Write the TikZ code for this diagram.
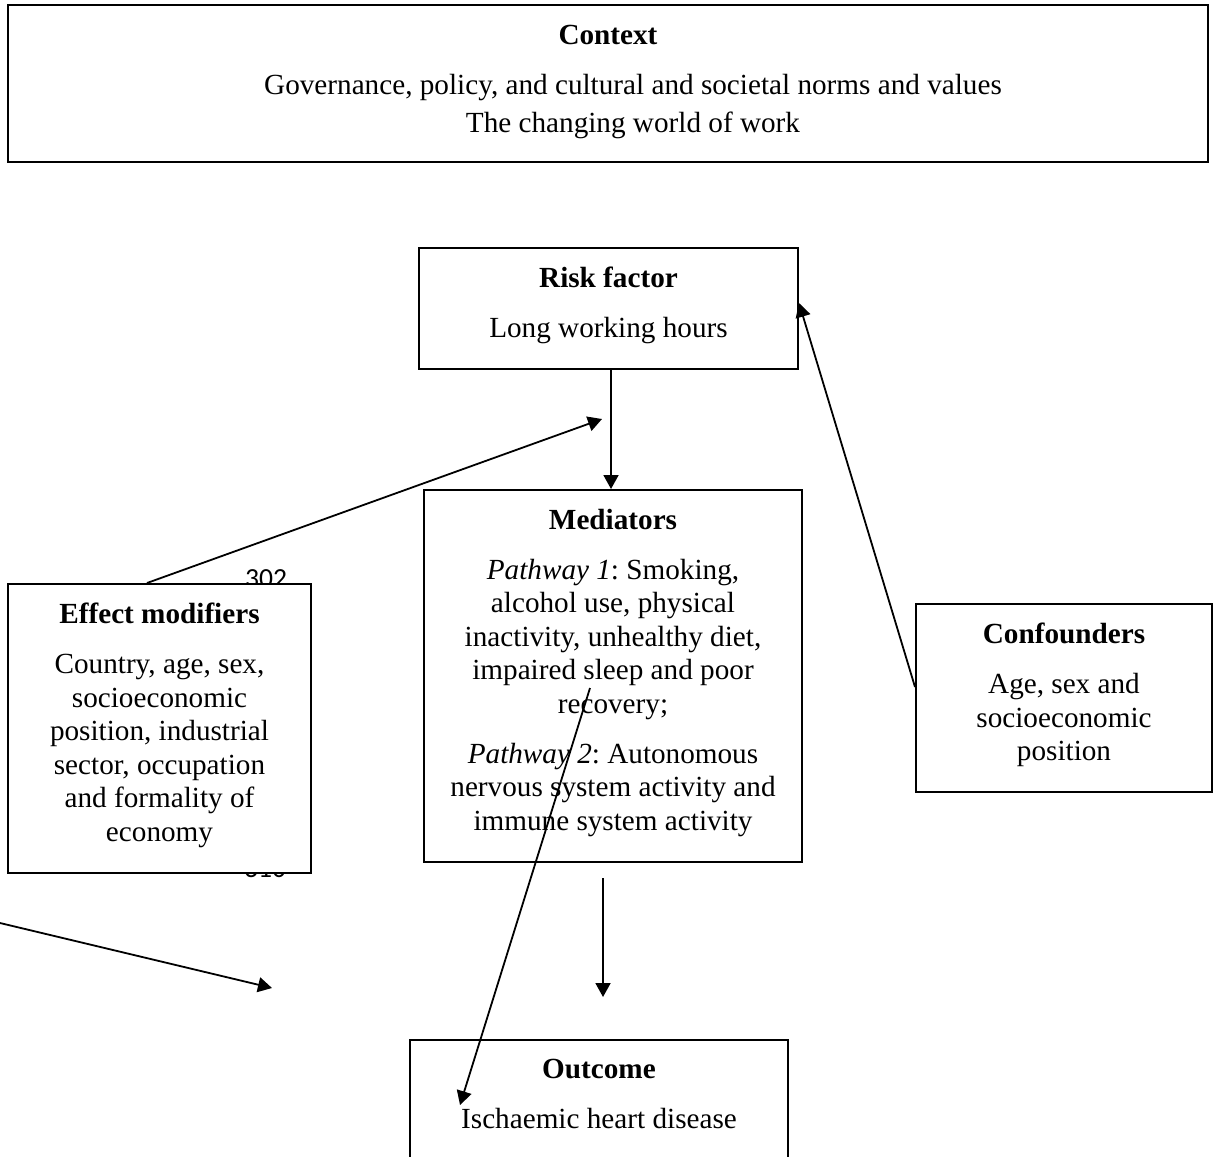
\documentclass[tikz,border=0pt]{standalone}
\usepackage{fontspec}
\setmainfont{Liberation Serif}
\newfontfamily\linenofont{Carlito}
\usetikzlibrary{arrows.meta}
\frenchspacing
\tikzset{
  box/.style={draw, line width=1pt, fill=white, align=center, inner sep=0pt,
    font=\fontsize{14.6}{16.75}\selectfont},
  arrow/.style={line width=0.9pt, -{Triangle[length=7pt,width=7.5pt]}},
  lineno/.style={anchor=base, inner sep=0pt, font=\linenofont\fontsize{13.8}{14}\selectfont}
}
\begin{document}
\begin{tikzpicture}[x=0.5pt,y=-0.5pt]
    \useasboundingbox (0,0) rectangle (1213,1156);
    % Line numbers behind the boxes
    \node[lineno] (no302) at (266,587) {302};
    \node[lineno] (no310) at (265,877) {310};
    % Draw the boxes
    \node[box, minimum width=600pt, minimum height=78.5pt, text depth=4.6pt] (context) at (608,83.5)
      {\textbf{Context}\\[8.25pt] \hspace*{25pt}Governance, policy, and cultural and societal norms and values\\[2.25pt] \hspace*{25pt}The changing world of work};
    \node[box, minimum width=189.5pt, minimum height=60.5pt, text depth=6.2pt] (risk) at (608.5,308.5)
      {\textbf{Risk factor}\\[8.25pt] Long working hours};
    \node[box, minimum width=189pt, minimum height=186pt, text depth=6.2pt] (mediators) at (613,676)
      {\textbf{Mediators}\\[8.25pt] \textit{Pathway 1}: Smoking,\\ alcohol use, physical\\ inactivity, unhealthy diet,\\ impaired sleep and poor\\ recovery;\\[8.25pt] \textit{Pathway 2}: Autonomous\\ nervous system activity and\\ immune system activity};
    \node[box, minimum width=151.5pt, minimum height=144.5pt, text depth=6.2pt] (modifiers) at (159.5,728.5)
      {\textbf{Effect modifiers}\\[8.25pt] Country, age, sex,\\ socioeconomic\\ position, industrial\\ sector, occupation\\ and formality of\\ economy};
    \node[box, minimum width=148pt, minimum height=94pt, text depth=6.2pt] (confounders) at (1064,698)
      {\textbf{Confounders}\\[8.25pt] Age, sex and\\ socioeconomic\\ position};
    \node[box, minimum width=189pt, minimum height=60pt, text depth=6pt] (outcome) at (599,1100)
      {\textbf{Outcome}\\[8.25pt] Ischaemic heart disease};
    % Free ends of the arrows
    \coordinate (modtip) at (602,419);
    \coordinate (medbelow) at (603,878);
    \coordinate (outabove) at (603,997);
    \coordinate (leftstart) at (0,923);
    \coordinate (lefttip) at (272,988);
    \coordinate (crossstart) at (590,688);
    \coordinate (crosstip) at (460,1105);
    % Draw the arrows
    \draw[arrow] ([xshift=1.25pt]risk.south) -- ([xshift=-1pt]mediators.north);
    \draw[arrow] ([xshift=-6.25pt]modifiers.north) -- (modtip);
    \draw[arrow] ([yshift=5.5pt]confounders.west) -- ([yshift=2.75pt]risk.east);
    \draw[arrow] (medbelow) -- (outabove);
    \draw[arrow] (leftstart) -- (lefttip);
    \draw[arrow] (crossstart) -- (crosstip);
\end{tikzpicture}
\end{document}
